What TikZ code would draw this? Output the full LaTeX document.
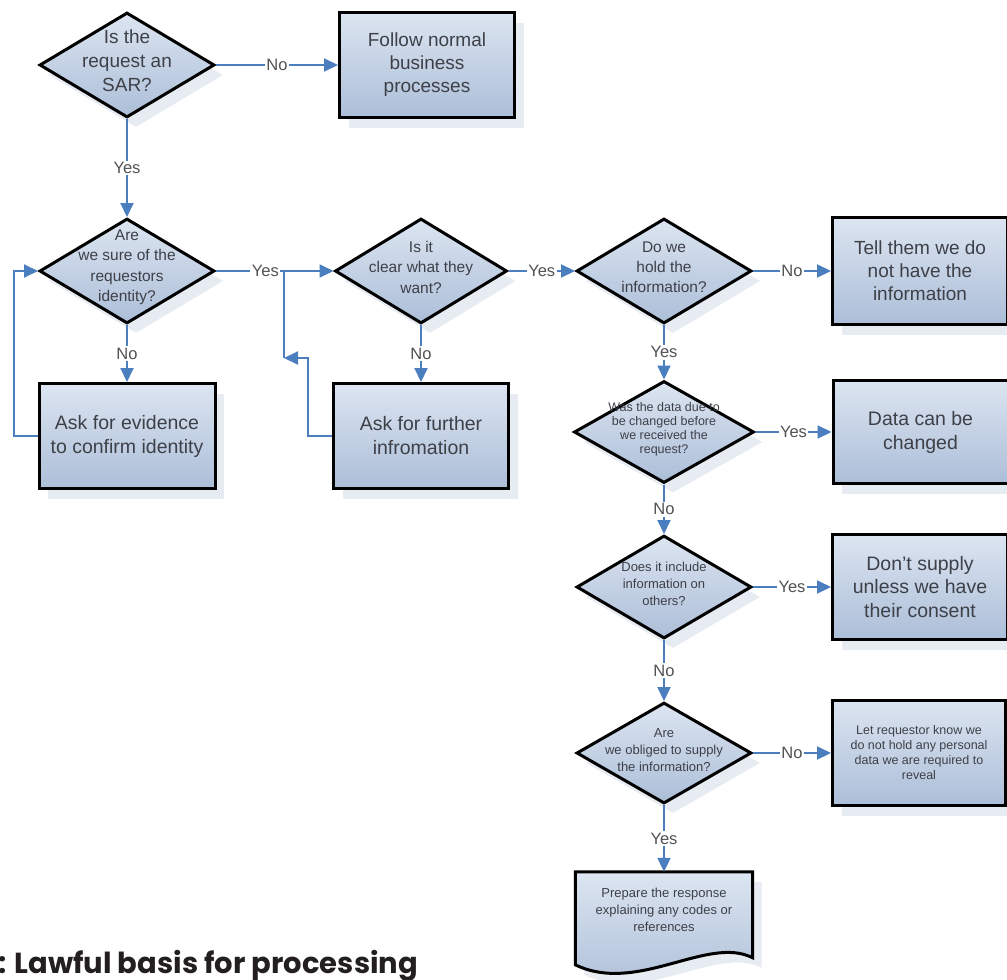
\documentclass[tikz,border=0pt]{standalone}
\usepackage{fontspec}
\setmainfont{Liberation Sans}
\newfontfamily\titlefont{Poppins}
\usetikzlibrary{arrows.meta,positioning,shapes.geometric,shadows,calc,backgrounds}
\definecolor{flowblue}{RGB}{74,126,190}
\definecolor{boxtop}{RGB}{220,229,241}
\definecolor{boxbot}{RGB}{172,190,216}
\definecolor{shade}{RGB}{231,235,242}
\definecolor{ink}{RGB}{62,64,72}
\definecolor{lblgray}{RGB}{82,82,86}
\definecolor{titleink}{RGB}{35,31,32}
\newcommand{\fs}[2]{\fontsize{#1}{#2}\selectfont}
\newcommand{\dtext}[2]{\smash{\makebox[0pt]{\parbox{#1}{\centering #2}}}}

\begin{document}
\begin{tikzpicture}[x=1pt,y=-1pt,
    decision/.style={diamond,draw=black,line width=3pt,top color=boxtop,bottom color=boxbot,
                     minimum width=175pt,minimum height=105pt,inner sep=0pt,text=ink,
                     drop shadow={shadow xshift=9pt,shadow yshift=-10pt,fill=shade,opacity=1}},
    box/.style={rectangle,draw=black,line width=3pt,top color=boxtop,bottom color=boxbot,
                minimum width=175pt,minimum height=105pt,align=center,text=ink,
                drop shadow={shadow xshift=9pt,shadow yshift=-10pt,fill=shade,opacity=1}},
    docfill/.style={draw=black,line width=3pt,top color=boxtop,bottom color=boxbot},
    flow/.style={draw=flowblue,line width=2pt,-{Triangle[length=14pt,width=13pt]}},
    link/.style={draw=flowblue,line width=2pt},
    lbl/.style={fill=white,text=lblgray,inner sep=1.5pt,font=\fs{16.5}{18}},
  ]
  \useasboundingbox (0,0) rectangle (1007,980);

  % left column
  \node[decision,font=\fs{19}{24}] (sar) at (127,65) {\dtext{200pt}{Is the\\request an\\SAR?}};
  \node[box,font=\fs{19}{23},right=122pt of sar] (normal) {Follow normal\\business\\processes};
  \node[decision,font=\fs{15.5}{20.5}] (identity) at (127,271)
    {\dtext{200pt}{Are\\we sure of the\\requestors\\identity?}};
  \node[box,font=\fs{19.5}{24},minimum width=176pt,below=57pt of identity] (evidence)
    {Ask for evidence\\to confirm identity};
  \node[decision,font=\fs{15.5}{20.5},minimum width=172pt] (clear) at (421,271)
    {\dtext{200pt}{Is it\\clear what they\\want?}};
  \node[box,font=\fs{19.5}{24},below=57pt of clear] (further) {Ask for further\\infromation};

  % right column
  \node[decision,font=\fs{15.5}{20}] (hold) at (664,271) {\dtext{200pt}{Do we\\hold the\\information?}};
  \node[box,font=\fs{19}{23},minimum height=107pt,right=78pt of hold] (tell)
    {Tell them we do\\not have the\\information};
  \node[decision,font=\fs{12.5}{14},minimum width=180pt,minimum height=102pt] (changed) at (664,432)
    {\dtext{200pt}{Was the data due to\\be changed before\\we received the\\request?}};
  \node[box,font=\fs{19.5}{24},minimum height=103pt,right=76pt of changed] (canchange)
    {Data can be\\changed};
  \node[decision,font=\fs{13}{17},minimum height=103pt] (others) at (664,587)
    {\dtext{200pt}{Does it include\\information on\\others?}};
  \node[box,font=\fs{19.5}{23.5},right=78pt of others] (consent)
    {Don't supply\\unless we have\\their consent};
  \node[decision,font=\fs{13}{17},minimum height=101pt] (obliged) at (664,753)
    {\dtext{200pt}{Are\\we obliged to supply\\the information?}};
  \node[box,font=\fs{12.5}{15},minimum width=173pt,right=78pt of obliged] (reveal)
    {Let requestor know we\\do not hold any personal\\data we are required to\\reveal};
  \node[align=center,text=ink,font=\fs{13}{17},minimum width=177pt,minimum height=76pt,inner sep=0pt]
    (response) at (664,910) {Prepare the response\\explaining any codes or\\references};
  \begin{scope}[on background layer]
    \path[docfill,drop shadow={shadow xshift=9pt,shadow yshift=-10pt,fill=shade,opacity=1}]
      (response.north west) -- (response.north east) -- ($(response.north east)+(0,86)$)
      .. controls ($(response.north east)+(-45,63)$) and ($(response.north west)+(62,123)$)
      .. ($(response.north west)+(0,93)$) -- cycle;
  \end{scope}

  % connectors
  \draw[flow] (sar.east) -- node[lbl]{No} (normal.west);
  \draw[flow] (sar.south) -- node[lbl]{Yes} (identity.north);
  \draw[flow] (identity.south) -- node[lbl]{No} (evidence.north);
  \draw[flow] (evidence.west) -- ++(-24,0) |- (identity.west);
  \draw[flow] (identity.east) -- node[lbl,pos=0.42]{Yes} (clear.west);
  \draw[flow] (clear.south) -- node[lbl]{No} (further.north);
  \coordinate (merge) at (284,358);
  \draw[flow] (further.west) -- ++(-24,0) |- (merge);
  \draw[link] (merge) -- (merge |- clear.west);
  \draw[flow] (clear.east) -- node[lbl]{Yes} (hold.west);
  \draw[flow] (hold.east) -- node[lbl]{No} (tell.west);
  \draw[flow] (hold.south) -- node[lbl]{Yes} (changed.north);
  \draw[flow] (changed.east) -- node[lbl]{Yes} (canchange.west);
  \draw[flow] (changed.south) -- node[lbl]{No} (others.north);
  \draw[flow] (others.east) -- node[lbl]{Yes} (consent.west);
  \draw[flow] (others.south) -- node[lbl]{No} (obliged.north);
  \draw[flow] (obliged.east) -- node[lbl]{No} (reveal.west);
  \draw[flow] (obliged.south) -- node[lbl]{Yes} (response.north);

  \node[anchor=base west,inner sep=0pt,text=titleink,font=\titlefont\bfseries\fs{29}{34}]
    (title) at (-2,973) {: Lawful basis for processing};
\end{tikzpicture}
\end{document}
